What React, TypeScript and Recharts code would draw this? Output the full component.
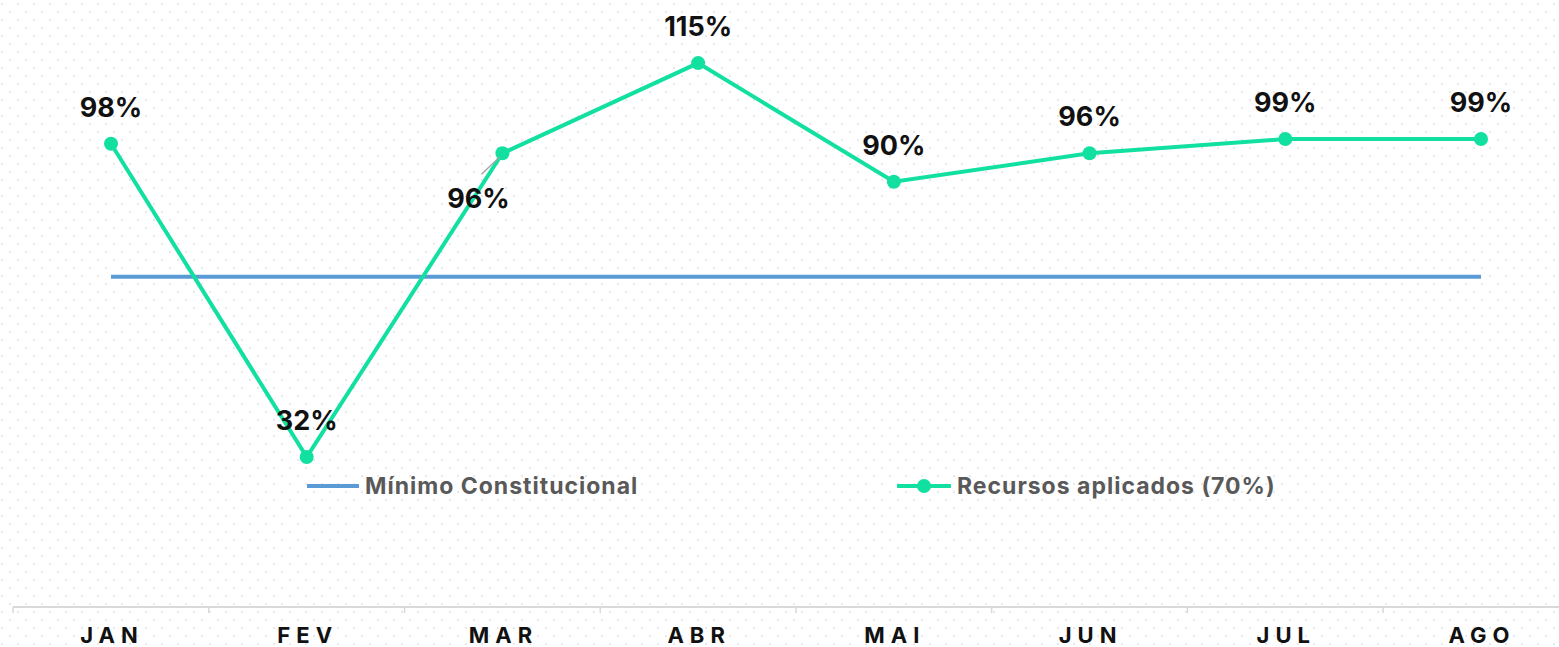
import React from 'react';
import { LineChart, Line, XAxis, YAxis, Legend, LabelList } from 'recharts';

const months = ['JAN', 'FEV', 'MAR', 'ABR', 'MAI', 'JUN', 'JUL', 'AGO'];
const applied = [98, 32, 96, 115, 90, 96, 99, 99];
const minimum = [70, 70, 70, 70, 70, 70, 70, 70];

const seriesNames = ['Mínimo Constitucional', 'Recursos aplicados (70%)'];
const BLUE = '#5b9bd5';
const GREEN = '#12e0a0';

const data = months.map((m, i) => ({ month: m, minimo: minimum[i], aplicado: applied[i] }));

const HALF_BAND = 97.9;

const dotBg =
  "url(\"data:image/svg+xml,%3Csvg xmlns='http://www.w3.org/2000/svg' width='16' height='16'%3E%3Crect x='1' y='3' width='2' height='2' fill='%23e8e8e8'/%3E%3Crect x='9' y='11' width='2' height='2' fill='%23e8e8e8'/%3E%3C/svg%3E\")";

function MonthTick(props: any) {
  const { x, y, payload, index } = props;
  return (
    <g>
      <line x1={x - HALF_BAND} x2={x - HALF_BAND} y1={y} y2={y + 6} stroke="#d9d9d9" strokeWidth={1.5} />
      {index === months.length - 1 && (
        <line x1={x + HALF_BAND} x2={x + HALF_BAND} y1={y} y2={y + 6} stroke="#d9d9d9" strokeWidth={1.5} />
      )}
      <text
        x={x + 1}
        y={y + 36}
        textAnchor="middle"
        fill="#111"
        fontSize={22}
        fontWeight={700}
        letterSpacing={6}
        fontFamily="Inter, sans-serif"
      >
        {payload.value}
      </text>
    </g>
  );
}

function PctLabel(props: any) {
  const { x, y, value, index } = props;
  if (index === 2) {
    // MAR label sits below-left with a leader line
    return (
      <g>
        <line x1={x - 21} y1={y + 21} x2={x - 3} y2={y + 4} stroke="#a6a6a6" strokeWidth={1.5} />
        <text x={x - 24} y={y + 55} textAnchor="middle" fill="#111" fontSize={27} fontWeight={700} fontFamily="Inter, sans-serif">
          {value}%
        </text>
      </g>
    );
  }
  return (
    <text x={x} y={y - 27} textAnchor="middle" fill="#111" fontSize={27} fontWeight={700} fontFamily="Inter, sans-serif">
      {value}%
    </text>
  );
}

function LegendBox() {
  return (
    <div
      style={{
        display: 'flex',
        alignItems: 'center',
        fontFamily: 'Inter, sans-serif',
        fontSize: 23,
        fontWeight: 700,
        letterSpacing: 1,
        color: '#595959',
      }}
    >
      <div style={{ display: 'flex', alignItems: 'center', width: 590 }}>
        <svg width={52} height={10} style={{ marginRight: 6 }}>
          <line x1={1} x2={51} y1={5} y2={5} stroke={BLUE} strokeWidth={4} strokeLinecap="round" />
        </svg>
        <span>{seriesNames[0]}</span>
      </div>
      <div style={{ display: 'flex', alignItems: 'center' }}>
        <svg width={54} height={16} style={{ marginRight: 6 }}>
          <line x1={1} x2={53} y1={8} y2={8} stroke={GREEN} strokeWidth={4} strokeLinecap="round" />
          <circle cx={27} cy={8} r={7} fill={GREEN} />
        </svg>
        <span>{seriesNames[1]}</span>
      </div>
    </div>
  );
}

export default function App() {
  return (
    <div
      style={{
        position: 'absolute',
        top: 0,
        left: 0,
        width: 1559,
        height: 647,
        overflow: 'hidden',
        background: '#fff',
        backgroundImage: dotBg,
      }}
    >
      <LineChart width={1600} height={647} data={data} margin={{ top: 9, right: 21, bottom: 0, left: 13 }}>
        <XAxis
          dataKey="month"
          padding={{ left: 98, right: 98 }}
          height={40}
          tickLine={false}
          tickSize={0}
          tickMargin={0}
          axisLine={{ stroke: '#d9d9d9', strokeWidth: 2 }}
          tick={<MonthTick />}
          interval={0}
        />
        <YAxis hide domain={[0.4, 126.4]} />
        <Legend
          layout="horizontal"
          verticalAlign="middle"
          align="center"
          wrapperStyle={{ top: 472, left: 307, width: 1100 }}
          content={() => <LegendBox />}
        />
        <Line
          dataKey="minimo"
          name={seriesNames[0]}
          stroke={BLUE}
          strokeWidth={4}
          dot={false}
          activeDot={false}
          isAnimationActive={false}
        />
        <Line
          dataKey="aplicado"
          name={seriesNames[1]}
          stroke={GREEN}
          strokeWidth={4}
          dot={{ r: 7, fill: GREEN, stroke: GREEN, strokeWidth: 0 }}
          activeDot={false}
          isAnimationActive={false}
        >
          <LabelList dataKey="aplicado" content={<PctLabel />} />
        </Line>
      </LineChart>
    </div>
  );
}
